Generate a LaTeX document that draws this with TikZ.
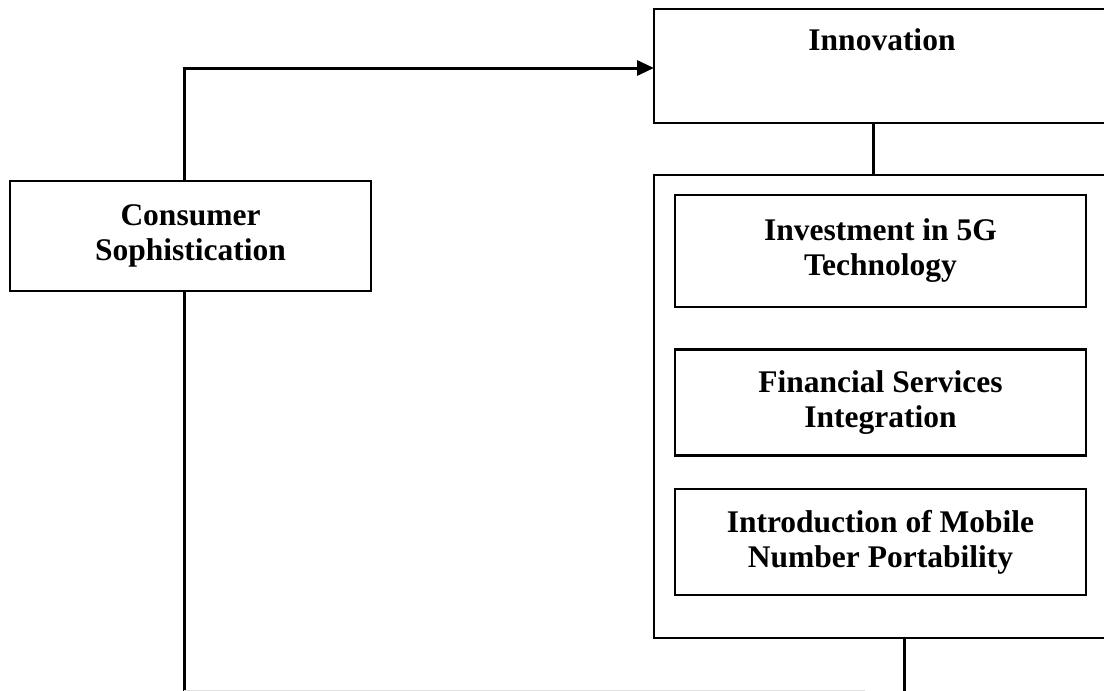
\documentclass[tikz,border=0pt]{standalone}
\usepackage{fontspec}
\setmainfont{Liberation Serif}
\usetikzlibrary{arrows.meta}
\begin{document}
\begin{tikzpicture}[x=1pt,y=-1pt,
  boxline/.style={draw=black,line width=2.6pt},
  conn/.style={draw=black,line width=3pt},
  lbl/.style={font=\fontsize{31.5}{35}\selectfont\bfseries,align=center,text=black,inner sep=0pt}]
\useasboundingbox (0,0) rectangle (1104,691);
\clip (0,0) rectangle (1104,691);
% boxes
\draw[boxline] (654,9) rectangle (1112,123);
\coordinate (innovS) at (873,123);
\coordinate (innovW) at (654,68);
\node[lbl,anchor=base] (innovtxt) at (882,50) {Innovation};

\draw[boxline] (654,175) rectangle (1112,638);
\coordinate (contN) at (873,175);
\coordinate (contS) at (904,638);

\node[boxline,lbl,minimum width=361pt,minimum height=110pt] (cons) at (190.5,236) {Consumer\\Sophistication};
\node[boxline,lbl,minimum width=411pt,minimum height=112pt] (b1) at (880.5,251) {Investment in 5G\\Technology};
\node[boxline,lbl,minimum width=411pt,minimum height=106pt] (b2) at (880.5,402.5) {Financial Services\\Integration};
\node[boxline,lbl,minimum width=411pt,minimum height=106pt] (b3) at (880.5,542) {Introduction of Mobile\\Number Portability};

% connectors
\draw[conn,-{Triangle[length=17pt,width=15pt]}] (cons.north -| 184,0) |- (innovW);
\draw[conn] (innovS) -- (contN);
\coordinate (bot) at (184,695);
\draw[conn] (cons.south -| 184,0) -- (bot) -| (contS);
\draw[gray!25,line width=1pt] (184,690.5) -- (865,690.5);
\end{tikzpicture}
\end{document}
